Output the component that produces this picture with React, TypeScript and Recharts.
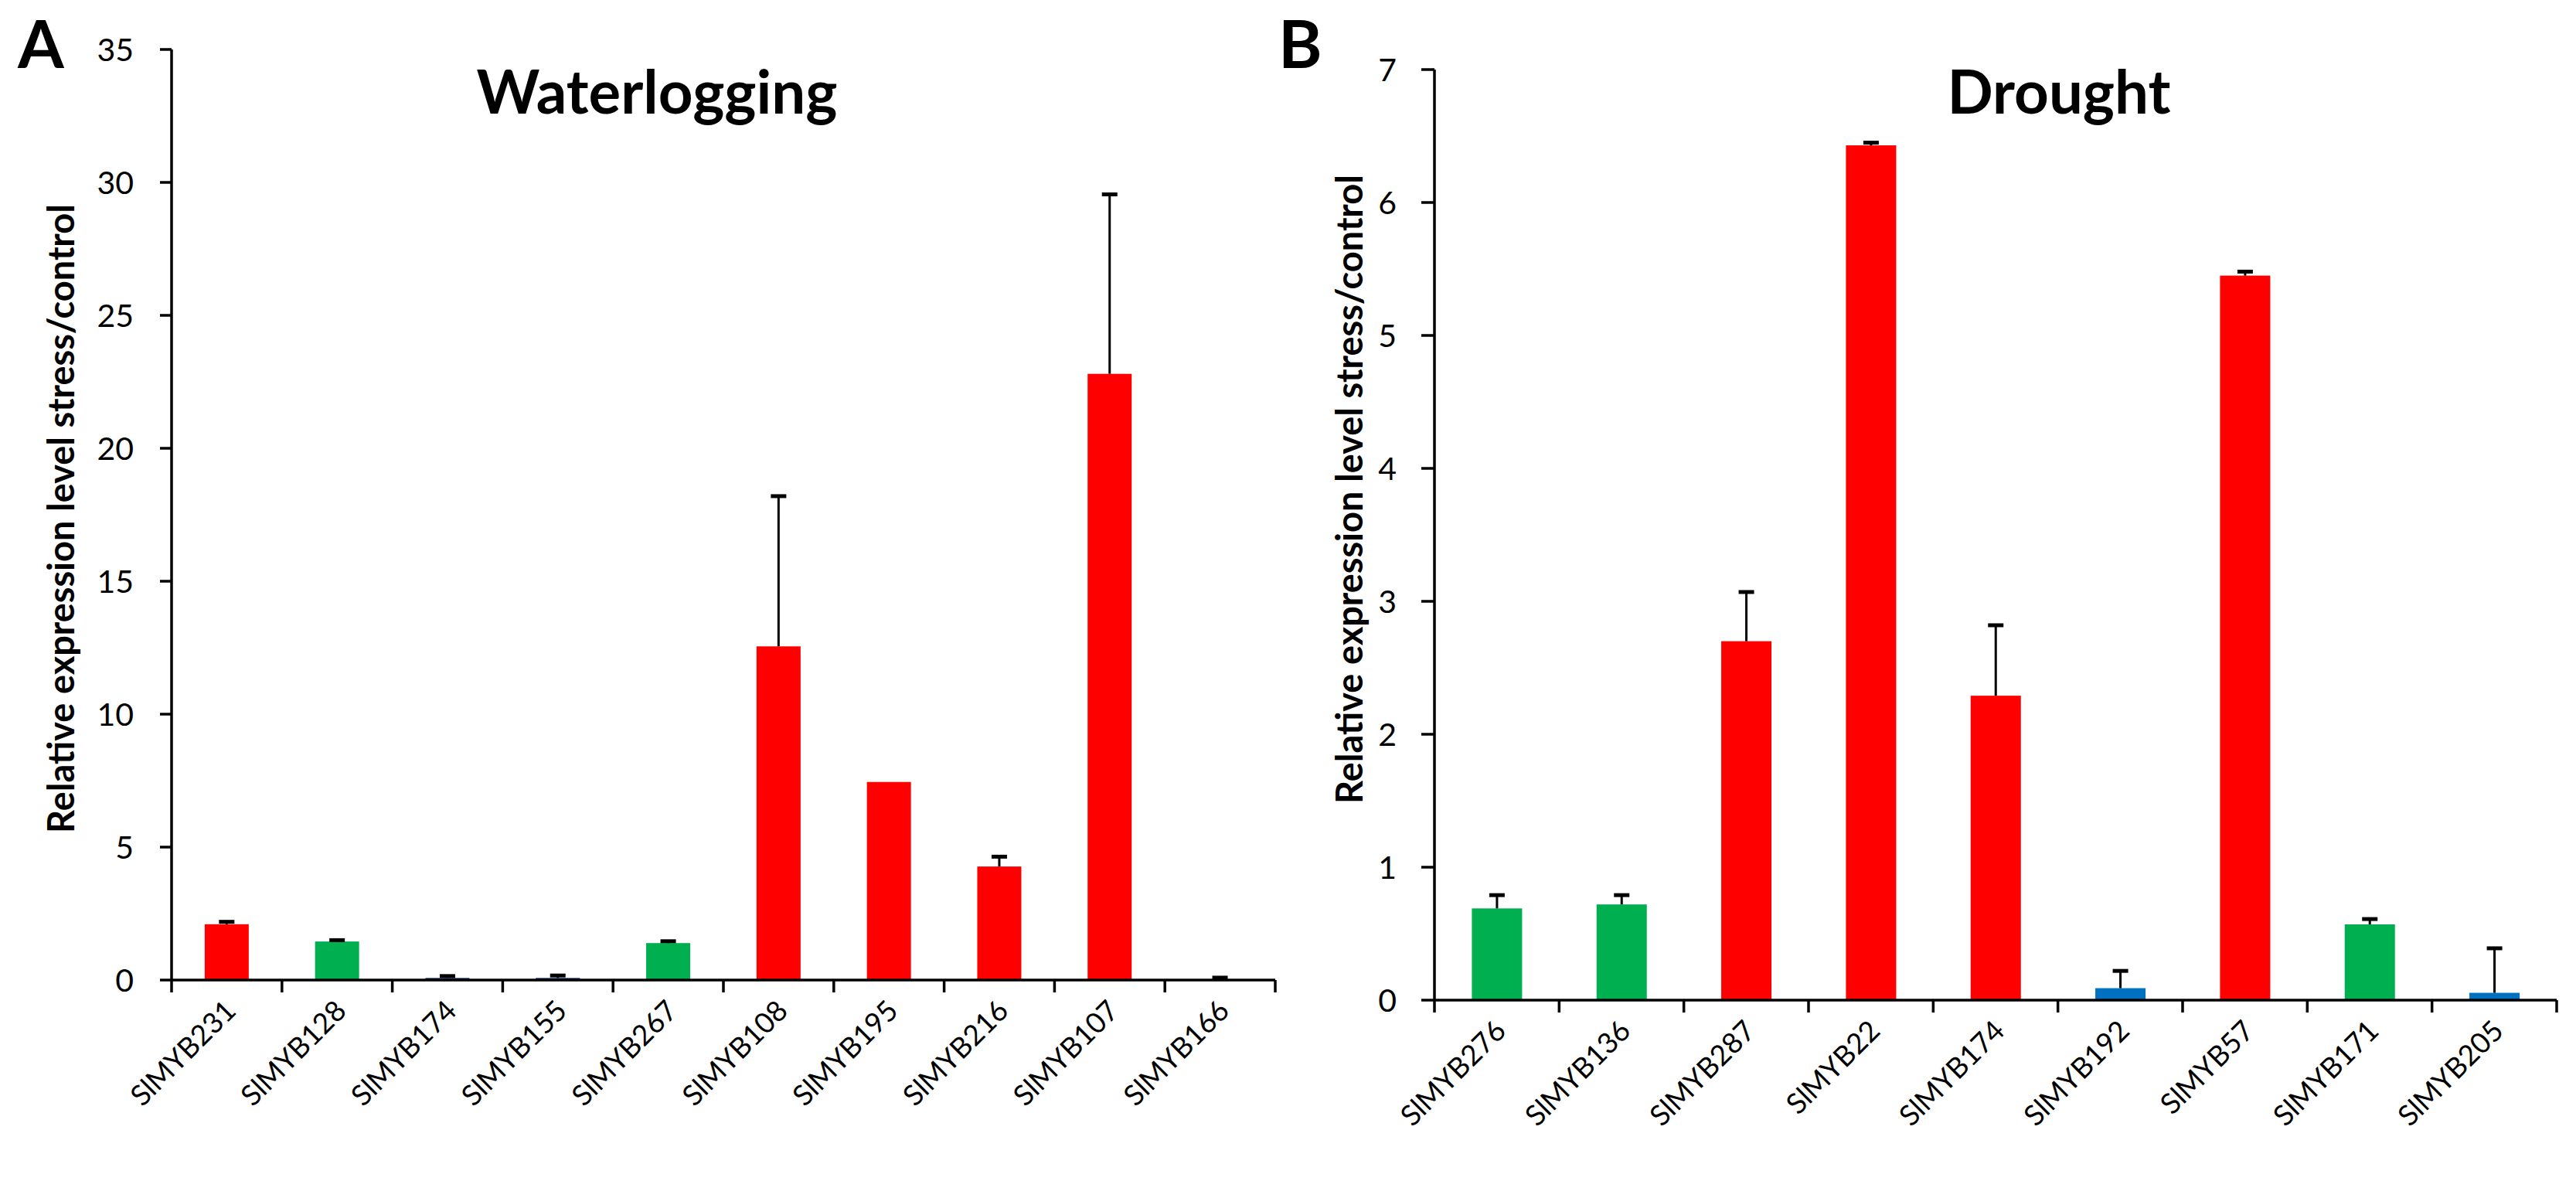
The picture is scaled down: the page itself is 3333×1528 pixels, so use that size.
import React from 'react';
import { BarChart, Bar, XAxis, YAxis, Label } from 'recharts';

// ---------- Data ----------
const waterGenes = ['SlMYB231', 'SlMYB128', 'SlMYB174', 'SlMYB155', 'SlMYB267', 'SlMYB108', 'SlMYB195', 'SlMYB216', 'SlMYB107', 'SlMYB166'];
const waterValues = [2.1, 1.45, 0.08, 0.08, 1.39, 12.55, 7.45, 4.27, 22.8, 0.03];
const waterErrors = [0.09, 0.05, 0.07, 0.09, 0.07, 5.65, 0, 0.37, 6.75, 0.06];
const waterRegulation = ['up', 'down', 'none', 'none', 'down', 'up', 'up', 'up', 'up', 'none'];
const waterTicks = [0, 5, 10, 15, 20, 25, 30, 35];

const droughtGenes = ['SlMYB276', 'SlMYB136', 'SlMYB287', 'SlMYB22', 'SlMYB174', 'SlMYB192', 'SlMYB57', 'SlMYB171', 'SlMYB205'];
const droughtValues = [0.69, 0.72, 2.7, 6.43, 2.29, 0.09, 5.45, 0.57, 0.055];
const droughtErrors = [0.1, 0.07, 0.37, 0.02, 0.53, 0.13, 0.03, 0.04, 0.335];
const droughtRegulation = ['down', 'down', 'up', 'up', 'up', 'none', 'up', 'down', 'none'];
const droughtTicks = [0, 1, 2, 3, 4, 5, 6, 7];

const yTitle = 'Relative expression level stress/control';

// ---------- Styles ----------
const colorsA: Record<string, string> = { up: '#FF0000', down: '#00B050', none: '#1F3A78' };
const colorsB: Record<string, string> = { up: '#FF0000', down: '#00B050', none: '#0070C0' };
const LABEL_FONT = 'Lato, "Open Sans", sans-serif';

const buildRows = (genes: string[], values: number[], errors: number[], reg: string[]) =>
  genes.map((g, i) => ({ gene: g, value: values[i], err: errors[i], reg: reg[i] }));

const waterData = buildRows(waterGenes, waterValues, waterErrors, waterRegulation);
const droughtData = buildRows(droughtGenes, droughtValues, droughtErrors, droughtRegulation);

const makeBarShape = (colors: Record<string, string>) => (props: any) => {
  const { x, y, width, height, payload } = props;
  const fill = colors[payload.reg];
  const h = Math.max(0, height || 0);
  const perUnit = payload.value > 0 ? h / payload.value : 0;
  const errPx = payload.err * perUnit;
  const cx = x + width / 2;
  return (
    <g>
      <rect x={x} y={y} width={width} height={h} fill={fill} />
      {payload.err > 0 && (
        <g>
          <line x1={cx} x2={cx} y1={y} y2={y - errPx} stroke="#000" strokeWidth={3} />
          <line x1={cx - 10} x2={cx + 10} y1={y - errPx} y2={y - errPx} stroke="#000" strokeWidth={5} />
        </g>
      )}
    </g>
  );
};

const makeXTick = (fallbackHalf: number, count: number) => (props: any) => {
  const { x, y, payload, index } = props;
  const half = payload && typeof payload.offset === 'number' && payload.offset > 1 ? payload.offset : fallbackHalf;
  const ax = x + 14;
  const ay = y + 42;
  return (
    <g>
      <line x1={x - half} x2={x - half} y1={y} y2={y + 16} stroke="#000" strokeWidth={3.5} />
      {index === count - 1 && (
        <line x1={x + half} x2={x + half} y1={y} y2={y + 16} stroke="#000" strokeWidth={3.5} />
      )}
      <text
        x={ax}
        y={ay}
        transform={`rotate(-45 ${ax} ${ay})`}
        textAnchor="end"
        fontSize={37}
        fontFamily={LABEL_FONT}
        fill="#000"
      >
        {payload.value}
      </text>
    </g>
  );
};

const yTickStyle = { fontSize: 41, fontFamily: LABEL_FONT, fontWeight: 400, fill: '#000' };

const makeYTitle = (dx: number, dyShift: number) => (p: any) => {
  const vb = p.viewBox || { x: 0, y: 0, width: 0, height: 0 };
  const cx = vb.x + dx;
  const cy = vb.y + vb.height / 2 + dyShift;
  return (
    <text
      x={cx}
      y={cy}
      transform={`rotate(-90 ${cx} ${cy})`}
      textAnchor="middle"
      dominantBaseline="central"
      fontSize={47}
      fontWeight={700}
      fontFamily={LABEL_FONT}
      fill="#000"
    >
      {yTitle}
    </text>
  );
};

export default function App() {
  return (
    <div style={{ position: 'absolute', left: 0, top: 0, width: 3333, height: 1528, background: '#fff', overflow: 'hidden' }}>
      <div style={{ position: 'absolute', left: 0, top: 0 }}>
        <BarChart
          width={1700}
          height={1528}
          data={waterData}
          margin={{ top: 64, right: 50, bottom: 10, left: 0 }}
          barCategoryGap="30%"
        >
          <XAxis
            dataKey="gene"
            type="category"
            interval={0}
            height={250}
            tickSize={0}
            tickMargin={0}
            tickLine={false}
            axisLine={{ stroke: '#000', strokeWidth: 3.5 }}
            tick={makeXTick(71.4, waterGenes.length)}
          />
          <YAxis
            type="number"
            domain={[0, 35]}
            ticks={waterTicks}
            interval={0}
            width={222}
            tickSize={15}
            tickMargin={34}
            axisLine={{ stroke: '#000', strokeWidth: 3.5 }}
            tickLine={{ stroke: '#000', strokeWidth: 3.5 }}
            tick={yTickStyle}
          >
            <Label content={makeYTitle(78, 5)} />
          </YAxis>
          <Bar dataKey="value" isAnimationActive={false} shape={makeBarShape(colorsA)} />
        </BarChart>
      </div>

      <div style={{ position: 'absolute', left: 1700, top: 0 }}>
        <BarChart
          width={1633}
          height={1528}
          data={droughtData}
          margin={{ top: 90, right: 25, bottom: 10, left: 0 }}
          barCategoryGap="30%"
        >
          <XAxis
            dataKey="gene"
            type="category"
            interval={0}
            height={224}
            tickSize={0}
            tickMargin={0}
            tickLine={false}
            axisLine={{ stroke: '#000', strokeWidth: 3.5 }}
            tick={makeXTick(80.7, droughtGenes.length)}
          />
          <YAxis
            type="number"
            domain={[0, 7]}
            ticks={droughtTicks}
            interval={0}
            width={156}
            tickSize={17}
            tickMargin={32}
            axisLine={{ stroke: '#000', strokeWidth: 3.5 }}
            tickLine={{ stroke: '#000', strokeWidth: 3.5 }}
            tick={yTickStyle}
          >
            <Label content={makeYTitle(45, -59)} />
          </YAxis>
          <Bar dataKey="value" isAnimationActive={false} shape={makeBarShape(colorsB)} />
        </BarChart>
      </div>

      <svg width={3333} height={1528} style={{ position: 'absolute', left: 0, top: 0, pointerEvents: 'none' }}>
        <text x={23} y={88} fontSize={86} fontWeight={700} fontFamily={LABEL_FONT} fill="#000">A</text>
        <text x={1654} y={88} fontSize={86} fontWeight={700} fontFamily={LABEL_FONT} fill="#000">B</text>
        <text x={850} y={147} textAnchor="middle" fontSize={78} fontWeight={700} fontFamily={LABEL_FONT} fill="#000">Waterlogging</text>
        <text x={2664} y={147} textAnchor="middle" fontSize={78} fontWeight={700} fontFamily={LABEL_FONT} fill="#000">Drought</text>
      </svg>
    </div>
  );
}
